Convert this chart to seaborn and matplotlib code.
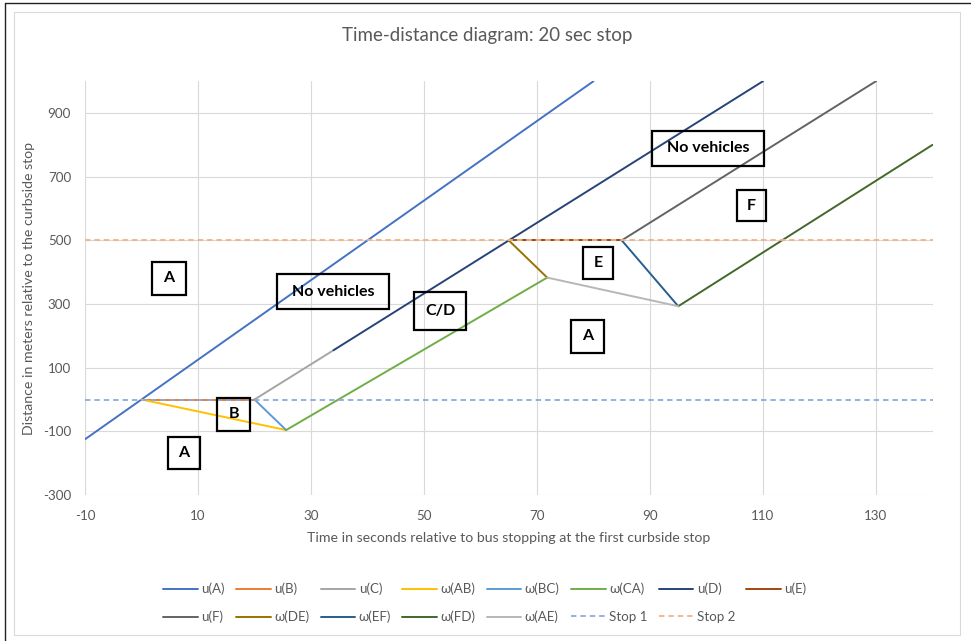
import matplotlib
matplotlib.use("Agg")
import matplotlib.pyplot as plt
from matplotlib.patches import Rectangle
from matplotlib.lines import Line2D
import seaborn as sns

# ---- data (time in s, distance in m) ----
uA_t, uA_d = [-10, 80], [-125, 1000]
uB_t, uB_d = [0, 20], [0, 0]
uC_t, uC_d = [20, 34], [0, 155]
wAB_t, wAB_d = [0, 25.6], [0, -96]
wBC_t, wBC_d = [20, 25.6], [0, -96]
wCA_t, wCA_d = [25.6, 71.8], [-96, 383]
uD_t, uD_d = [34, 110], [155, 1000]
uE_t, uE_d = [65, 85], [500, 500]
uF_t, uF_d = [85, 130], [500, 1000]
wDE_t, wDE_d = [65, 71.8], [500, 383]
wEF_t, wEF_d = [85, 95], [500, 293]
wFD_t, wFD_d = [95, 140], [293, 800]
wAE_t, wAE_d = [71.8, 95], [383, 293]
stop_t = [-10, 140]
stop1_d = [0, 0]
stop2_d = [500, 500]

series_labels = ["u(A)", "u(B)", "u(C)", "ω(AB)", "ω(BC)", "ω(CA)", "u(D)",
                 "u(E)", "u(F)", "ω(DE)", "ω(EF)", "ω(FD)", "ω(AE)"]
series_t = [uA_t, uB_t, uC_t, wAB_t, wBC_t, wCA_t, uD_t, uE_t, uF_t,
            wDE_t, wEF_t, wFD_t, wAE_t]
series_d = [uA_d, uB_d, uC_d, wAB_d, wBC_d, wCA_d, uD_d, uE_d, uF_d,
            wDE_d, wEF_d, wFD_d, wAE_d]
series_colors = ["#4472C4", "#ED7D31", "#A5A5A5", "#FFC000", "#5B9BD5",
                 "#70AD47", "#264478", "#9E480E", "#636363", "#997300",
                 "#255E91", "#43682B", "#B7B7B7"]

x_ticks = [-10, 10, 30, 50, 70, 90, 110, 130]
y_ticks = [-300, -100, 100, 300, 500, 700, 900]

region_boxes = [  # (left, top, right, bottom) in figure pixels, label
    ((152, 262, 186, 295), "A"),
    ((277, 274, 389, 309), "No vehicles"),
    ((217, 398, 250, 431), "B"),
    ((168, 437, 200, 469), "A"),
    ((414, 292, 466, 330), "C/D"),
    ((583, 247, 613, 279), "E"),
    ((571, 320, 604, 353), "A"),
    ((652, 131, 764, 166), "No vehicles"),
    ((737, 190, 766, 221), "F"),
]

sns.set_theme(style="white")
plt.rcParams["font.family"] = ["Lato", "DejaVu Sans"]
plt.rcParams["axes.unicode_minus"] = False

W, H = 971, 641
fig = plt.figure(figsize=(W / 100, H / 100), dpi=100)
ax = fig.add_axes([85 / W, 1 - 495 / H, (932.5 - 85) / W, (495 - 81.2) / H])

for t, d, c, lab in zip(series_t, series_d, series_colors, series_labels):
    sns.lineplot(x=t, y=d, color=c, lw=1.4, label=lab, ax=ax,
                 estimator=None, sort=False)
sns.lineplot(x=stop_t, y=stop1_d, color="#8FAADC", lw=1.3, label="Stop 1",
             ax=ax, estimator=None, sort=False, linestyle=(0, (3, 2.2)))
sns.lineplot(x=stop_t, y=stop2_d, color="#F4B183", lw=1.3, label="Stop 2",
             ax=ax, estimator=None, sort=False, linestyle=(0, (3, 2.2)))

ax.set_xlim(-10, 140)
ax.set_ylim(-300, 1000)
ax.set_xticks(x_ticks)
ax.set_yticks(y_ticks)
ax.grid(True, color="#D9D9D9", lw=0.8)
ax.set_axisbelow(True)
for s in ax.spines.values():
    s.set_visible(False)
ax.tick_params(axis="both", length=0, labelsize=9.6, colors="#595959")
ax.tick_params(axis="x", pad=11)
ax.tick_params(axis="y", pad=10)
ax.set_xlabel("Time in seconds relative to bus stopping at the first curbside stop",
              fontsize=10.2, color="#595959", labelpad=7)
ax.set_ylabel("Distance in meters relative to the curbside stop",
              fontsize=10.2, color="#595959", labelpad=6)

fig.text(487 / W, 1 - 36 / H, "Time-distance diagram: 20 sec stop",
         ha="center", va="center", fontsize=13.5, color="#595959")

# legend, row-major order in 8 columns
handles, labels = ax.get_legend_handles_labels()
order = [0, 8, 1, 9, 2, 10, 3, 11, 4, 12, 5, 13, 6, 14, 7]
leg = ax.legend([handles[i] for i in order], [labels[i] for i in order],
                ncol=8, loc="center", bbox_to_anchor=(485 / W, 1 - 603 / H),
                bbox_transform=fig.transFigure, frameon=False, fontsize=9.6,
                handlelength=2.6, handletextpad=0.25, columnspacing=0.85,
                labelspacing=1.15)
for txt in leg.get_texts():
    txt.set_color("#595959")

# region label boxes
for (l, t, r, b), lab in region_boxes:
    fig.add_artist(Rectangle((l / W, 1 - b / H), (r - l) / W, (b - t) / H,
                             transform=fig.transFigure, fill=False,
                             edgecolor="black", lw=1.6, zorder=5))
    fig.text((l + r) / 2 / W, 1 - (t + b) / 2 / H, lab, ha="center",
             va="center", fontsize=11.5, fontweight="bold", color="black",
             zorder=6)

# chart area border and screenshot edges
fig.add_artist(Rectangle((14 / W, 1 - 635 / H), (960 - 14) / W, (635 - 12) / H,
                         transform=fig.transFigure, fill=False,
                         edgecolor="#D9D9D9", lw=0.8))
fig.add_artist(Line2D([5 / W, 5 / W], [0, 1 - 3 / H], transform=fig.transFigure,
                      color="#222222", lw=1.0))
fig.add_artist(Line2D([5 / W, 1], [1 - 3 / H, 1 - 3 / H], transform=fig.transFigure,
                      color="#222222", lw=1.0))

fig.savefig("out.png", dpi=100)
